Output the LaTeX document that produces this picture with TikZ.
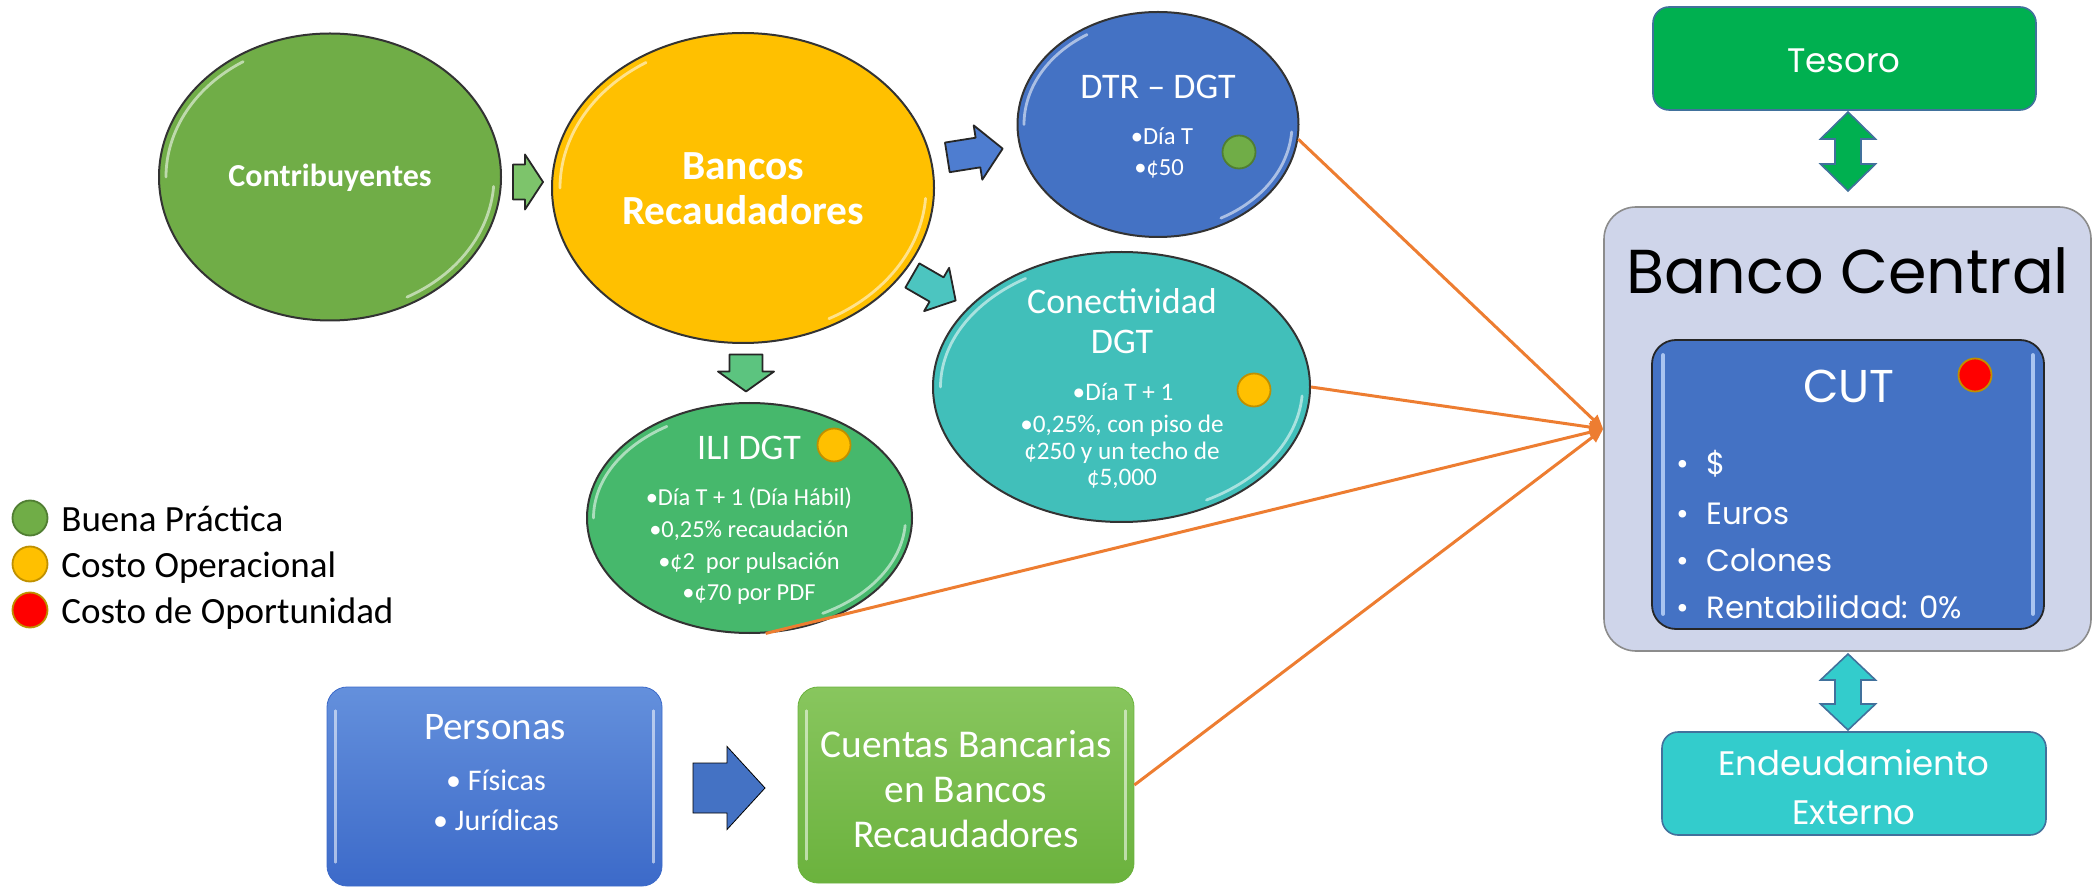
\documentclass[tikz,border=0pt]{standalone}
\usepackage{fontspec}
\setmainfont{Carlito}
\newfontfamily\gothic{Poppins}
\usetikzlibrary{shapes.geometric,arrows.meta,calc}
\definecolor{cContrib}{HTML}{70AD47}
\definecolor{cBancos}{HTML}{FFC000}
\definecolor{cDTR}{HTML}{4472C4}
\definecolor{cCon}{HTML}{41BFBA}
\definecolor{cILI}{HTML}{46B86C}
\definecolor{cTes}{HTML}{00B050}
\definecolor{cBC}{HTML}{CFD5EA}
\definecolor{cEnd}{HTML}{33CCCC}
\definecolor{cOrange}{HTML}{ED7D31}
\definecolor{cBorderBlue}{HTML}{41719C}
\definecolor{cYelB}{HTML}{BF9000}
\definecolor{cGreenB}{HTML}{507E32}
\definecolor{cPersTop}{HTML}{6490DC}
\definecolor{cPersBot}{HTML}{3C6AC9}
\definecolor{cCuenTop}{HTML}{88C65E}
\definecolor{cCuenBot}{HTML}{6BB23D}
\definecolor{cArrG}{HTML}{7DC46B}
\definecolor{cArrB}{HTML}{4E7DD0}
\definecolor{cArrC}{HTML}{4CC5C0}
\definecolor{cArrGd}{HTML}{5CC47F}
\definecolor{cCutLine}{HTML}{B4CDF5}

\newcommand\glossit[3]{%
  \draw[gloss] (#1.center) ++(122:#2 and #3) arc[start angle=122, end angle=180, x radius=#2, y radius=#3];
  \draw[gloss] (#1.center) ++(-62:#2 and #3) arc[start angle=-62, end angle=-4, x radius=#2, y radius=#3];
}
\newcommand\blockarrow[8]{%
  \draw[#8, shift={(#1,#2)}, rotate=#3]
   ({-#4/2},{-#5/2}) -- ({#4/2-#7},{-#5/2}) -- ({#4/2-#7},{-#6/2}) -- ({#4/2},0)
   -- ({#4/2-#7},{#6/2}) -- ({#4/2-#7},{#5/2}) -- ({-#4/2},{#5/2}) -- cycle;}
\newcommand\dblarrow[7]{%
  \draw[#7, shift={(#1,#2)}]
   (0,{-#3/2}) -- ({#5/2},{-#3/2+#6}) -- ({#4/2},{-#3/2+#6}) -- ({#4/2},{#3/2-#6})
   -- ({#5/2},{#3/2-#6}) -- (0,{#3/2}) -- ({-#5/2},{#3/2-#6}) -- ({-#4/2},{#3/2-#6})
   -- ({-#4/2},{-#3/2+#6}) -- ({-#5/2},{-#3/2+#6}) -- cycle;}

\tikzset{
  ell/.style={ellipse, draw=black!80, line width=1pt, inner sep=0pt},
  wtxt/.style={text=white, inner sep=0pt, anchor=base},
  btxt/.style={text=black, inner sep=0pt, anchor=base west},
  gloss/.style={draw=white, line width=1.4pt, draw opacity=0.55, line cap=round},
  orline/.style={draw=cOrange, line width=1.5pt, -{Triangle[length=7pt,width=6pt]}},
  sarrow/.style={draw=black!85, line width=0.9pt, line join=round},
  dot/.style={circle, inner sep=0pt, minimum size=16.5pt, line width=0.9pt},
  rbox/.style={rectangle, inner sep=0pt},
  f18/.style={font=\fontsize{18}{21}\selectfont},
  fsm/.style={font=\fontsize{12.3}{14}\selectfont},
  fcon/.style={font=\fontsize{12.6}{14}\selectfont},
  fili/.style={font=\fontsize{12.2}{14}\selectfont},
}

\begin{document}
\begin{tikzpicture}[x=0.5pt,y=-0.5pt]
\useasboundingbox (0,0) rectangle (2094,887);

% ---------- ellipses ----------
\node[ell, fill=cContrib, minimum width=171pt, minimum height=143.5pt] (contrib) at (330,177) {};
\node[ell, fill=cBancos, minimum width=191pt, minimum height=155pt] (bancos) at (743,188) {};
\node[ell, fill=cDTR, minimum width=140.5pt, minimum height=112.5pt] (dtr) at (1158,124.5) {};
\node[ell, fill=cCon, minimum width=188.5pt, minimum height=135pt] (con) at (1121.5,387) {};
\node[ell, fill=cILI, minimum width=162.5pt, minimum height=115pt] (ili) at (749.5,518) {};
\glossit{contrib}{82pt}{68pt}
\glossit{bancos}{91.5pt}{74pt}
\glossit{dtr}{67pt}{53pt}
\glossit{con}{90.5pt}{64pt}
\glossit{ili}{78pt}{54pt}

% ---------- ellipse texts ----------
\node[wtxt, font=\bfseries\fontsize{16}{19}\selectfont] (contribT) at (330,187) {Contribuyentes};
\node[wtxt, font=\bfseries\fontsize{20.7}{24}\selectfont] (bancosA) at (743,180) {Bancos};
\node[wtxt, font=\bfseries\fontsize{20.7}{24}\selectfont] (bancosB) at (743,225) {Recaudadores};

\node[wtxt, f18] (dtrT) at (1158,98.5) {DTR -- DGT};
\node[wtxt, fsm] (dtrA) at (1162,144.5) {•Día T};
\node[wtxt, fsm] (dtrB) at (1159,175.5) {•¢50};

\node[wtxt, f18] (conT1) at (1122,313.5) {Conectividad};
\node[wtxt, f18] (conT2) at (1122,353.5) {DGT};
\node[wtxt, fcon] (conA) at (1123,401) {•Día T + 1};
\node[wtxt, fcon] (conB) at (1122,433) {•0,25\%, con piso de};
\node[wtxt, fcon] (conC) at (1122,460) {¢250 y un techo de};
\node[wtxt, fcon] (conD) at (1122,486) {¢5,000};

\node[wtxt, f18] (iliT) at (749,459.5) {ILI DGT};
\node[wtxt, fili] (iliA) at (749,506) {•Día T + 1 (Día Hábil)};
\node[wtxt, fili] (iliB) at (749,538) {•0,25\% recaudación};
\node[wtxt, fili] (iliC) at (749,569) {•¢2~~por pulsación};
\node[wtxt, fili] (iliD) at (749,600) {•¢70 por PDF};

% ---------- dots ----------
\node[dot, fill=cContrib, draw=cGreenB] (dtrDot) at (1239,152) {};
\node[dot, fill=cBancos, draw=cYelB] (conDot) at (1254,390) {};
\node[dot, fill=cBancos, draw=cYelB] (iliDot) at (834,445) {};

% ---------- small block arrows ----------
\blockarrow{528}{182}{0}{30}{35}{55}{18}{sarrow, fill=cArrG}
\blockarrow{975}{153}{9}{56}{30}{55}{25}{sarrow, fill=cArrB}
\blockarrow{934}{288}{-30}{50}{28}{50}{22}{sarrow, fill=cArrC}
\blockarrow{746}{373}{-90}{37}{33}{56}{20}{sarrow, fill=cArrGd}

% ---------- legend ----------
\node[dot, minimum size=17.5pt, fill=cContrib, draw=cGreenB] (legG) at (30,518) {};
\node[dot, minimum size=17.5pt, fill=cBancos, draw=cYelB] (legY) at (30,564) {};
\node[dot, minimum size=17.5pt, fill=red, draw=cYelB] (legR) at (30,610) {};
\node[btxt, font=\fontsize{18.5}{22}\selectfont] (legGT) at (61,531) {Buena Práctica};
\node[btxt, font=\fontsize{18.5}{22}\selectfont] (legYT) at (61,577) {Costo Operacional};
\node[btxt, font=\fontsize{18.5}{22}\selectfont] (legRT) at (61,623) {Costo de Oportunidad};

% ---------- bottom boxes ----------
\node[rbox, top color=cPersTop, bottom color=cPersBot, draw=cPersBot, minimum width=167.5pt, minimum height=99.5pt, rounded corners=10pt] (personas) at (494.5,786.5) {};
\node[rbox, top color=cCuenTop, bottom color=cCuenBot, draw=cCuenBot, minimum width=168pt, minimum height=98pt, rounded corners=10pt] (cuentas) at (966,785) {};
\foreach \b in {personas,cuentas}{
  \draw[gloss, line width=1.2pt] ([xshift=4.5pt,yshift=-12pt]\b.north west) -- ([xshift=4.5pt,yshift=12pt]\b.south west);
  \draw[gloss, line width=1.2pt] ([xshift=-4.5pt,yshift=-12pt]\b.north east) -- ([xshift=-4.5pt,yshift=12pt]\b.south east);
}
\node[wtxt, font=\fontsize{19.5}{23}\selectfont] (persT) at (495,739) {Personas};
\node[wtxt, font=\fontsize{15}{18}\selectfont] (persA) at (496,790) {• Físicas};
\node[wtxt, font=\fontsize{15}{18}\selectfont] (persB) at (496,830) {• Jurídicas};
\node[wtxt, font=\fontsize{19.7}{23}\selectfont] (cuenA) at (966,757) {Cuentas Bancarias};
\node[wtxt, font=\fontsize{19.7}{23}\selectfont] (cuenB) at (966,802) {en Bancos};
\node[wtxt, font=\fontsize{19.7}{23}\selectfont] (cuenC) at (966,847) {Recaudadores};
\blockarrow{729}{788}{0}{72}{50}{83}{38}{fill=cDTR}

% ---------- right column ----------
\node[rbox, fill=cTes, draw=cBorderBlue, line width=0.8pt, minimum width=191.5pt, minimum height=51.5pt, rounded corners=8pt] (tesoro) at (1844.5,58.5) {};
\node[wtxt, font=\gothic\fontsize{17}{20}\selectfont] (tesT) at (1844,72.5) {Tesoro};

\node[rbox, fill=cBC, draw=black!45, line width=0.8pt, minimum width=243.5pt, minimum height=222pt, rounded corners=16pt] (bc) at (1847.5,429) {};
\node[text=black, inner sep=0pt, anchor=base, font=\gothic\fontsize{31}{36}\selectfont] (bcT) at (1848,294) {Banco Central};

\node[rbox, fill=cDTR, draw=black!85, line width=0.9pt, minimum width=196pt, minimum height=144.5pt, rounded corners=12pt] (cut) at (1848,484.5) {};
\draw[gloss, draw=cCutLine, draw opacity=0.9, line width=2pt] ([xshift=6pt,yshift=-8pt]cut.north west) -- ([xshift=6pt,yshift=8pt]cut.south west);
\draw[gloss, draw=cCutLine, draw opacity=0.9, line width=2pt] ([xshift=-6pt,yshift=-8pt]cut.north east) -- ([xshift=-6pt,yshift=8pt]cut.south east);
\node[wtxt, font=\gothic\fontsize{23}{27}\selectfont] (cutT) at (1849,403) {CUT};
\node[dot, fill=red, draw=cYelB] (cutDot) at (1975,375) {};
\foreach \y/\t [count=\i] in {475/\$, 524/Euros, 571/Colones, 618/Rentabilidad: 0\%}{
  \node[wtxt, font=\gothic\fontsize{15.4}{19}\selectfont] (cutb\i) at (1683,\y) {•};
  \node[wtxt, anchor=base west, font=\gothic\fontsize{15.4}{19}\selectfont] (cutt\i) at (1706,\y) {\t};
}

\node[rbox, fill=cEnd, draw=cBorderBlue, line width=0.8pt, minimum width=192pt, minimum height=51.5pt, rounded corners=8pt] (endeu) at (1854,783.5) {};
\node[wtxt, font=\gothic\fontsize{17}{20}\selectfont] (endA) at (1854,775) {Endeudamiento};
\node[wtxt, font=\gothic\fontsize{17}{20}\selectfont] (endB) at (1854,824) {Externo};

\dblarrow{1848}{151.5}{79}{26}{55}{27}{fill=cTes, draw=cBorderBlue, line width=0.8pt}
\dblarrow{1848}{692}{76}{26}{55}{26}{fill=cEnd, draw=cBorderBlue, line width=0.8pt}

% ---------- orange connectors ----------
\draw[orline] (dtr.-6) -- (bc.west);
\draw[orline] (con.east) -- (bc.west);
\draw[orline] (ili.-82) -- (bc.west);
\draw[orline] (cuentas.east) -- (bc.west);
\end{tikzpicture}
\end{document}
